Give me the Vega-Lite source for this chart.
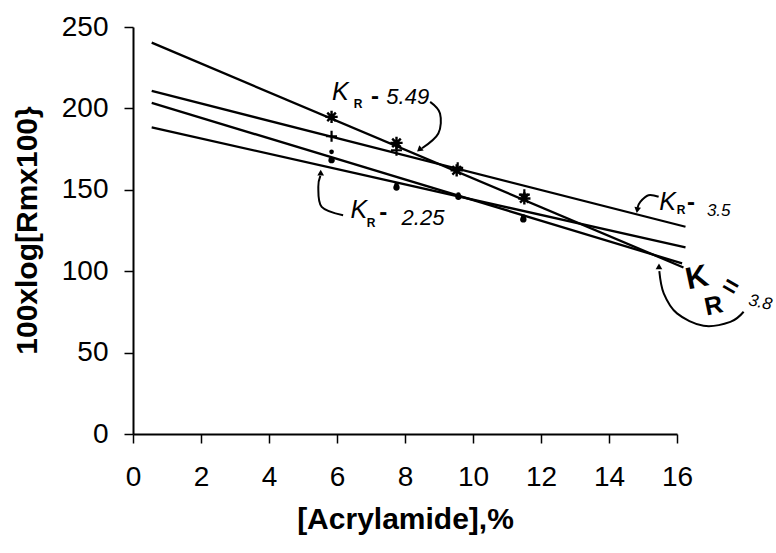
{
  "$schema": "https://vega.github.io/schema/vega-lite/v6.json",
  "autosize": {"type": "none"},
  "padding": {"left": 133, "top": 27, "right": 99, "bottom": 119},
  "width": 544,
  "height": 407,
  "background": "white",
  "config": {
    "font": "Liberation Sans",
    "view": {"stroke": null},
    "axis": {"grid": false, "domainColor": "black", "tickColor": "black", "labelColor": "black", "titleColor": "black", "domainWidth": 2, "tickWidth": 1.5, "tickSize": 9}
  },
  "datasets": {
    "fits": [
      {"K": "5.49", "x": 0.55, "y": 240.4}, {"K": "5.49", "x": 16.19, "y": 102.3},
      {"K": "3.5", "x": 0.55, "y": 210.7}, {"K": "3.5", "x": 16.25, "y": 127.3},
      {"K": "3.8", "x": 0.55, "y": 203.4}, {"K": "3.8", "x": 16.15, "y": 104.8},
      {"K": "2.25", "x": 0.55, "y": 188.3}, {"K": "2.25", "x": 16.25, "y": 114.6}
    ],
    "points": [
      {"K": "5.49", "x": 5.84, "y": 194.8}, {"K": "5.49", "x": 7.75, "y": 178.8}, {"K": "5.49", "x": 9.52, "y": 162.0}, {"K": "5.49", "x": 11.51, "y": 144.7},
      {"K": "3.5", "x": 5.84, "y": 182.9}, {"K": "3.5", "x": 7.75, "y": 174.3}, {"K": "3.5", "x": 9.55, "y": 163.5}, {"K": "3.5", "x": 11.51, "y": 147.0},
      {"K": "3.8", "x": 5.84, "y": 168.2}, {"K": "3.8", "x": 7.75, "y": 151.4}, {"K": "3.8", "x": 9.57, "y": 145.7}, {"K": "3.8", "x": 11.48, "y": 131.8},
      {"K": "2.25", "x": 5.84, "y": 173.3}, {"K": "2.25", "x": 7.75, "y": 153.0}, {"K": "2.25", "x": 9.57, "y": 147.0}, {"K": "2.25", "x": 11.48, "y": 133.5}
    ],
    "arrows": [
      {"arrow": "a549", "i": 1, "x": 8.74, "y": 204.0}, {"arrow": "a549", "i": 2, "x": 9.03, "y": 196.9}, {"arrow": "a549", "i": 3, "x": 8.98, "y": 184.6}, {"arrow": "a549", "i": 4, "x": 8.5, "y": 175.5},
      {"arrow": "a35", "i": 1, "x": 15.46, "y": 145.7}, {"arrow": "a35", "i": 2, "x": 15.16, "y": 146.7}, {"arrow": "a35", "i": 3, "x": 14.92, "y": 142.6}, {"arrow": "a35", "i": 4, "x": 14.84, "y": 139.0},
      {"arrow": "a38", "i": 1, "x": 17.96, "y": 75.1}, {"arrow": "a38", "i": 2, "x": 17.57, "y": 68.9}, {"arrow": "a38", "i": 3, "x": 16.78, "y": 66.5}, {"arrow": "a38", "i": 4, "x": 16.0, "y": 74.1}, {"arrow": "a38", "i": 5, "x": 15.61, "y": 86.4}, {"arrow": "a38", "i": 6, "x": 15.48, "y": 100.0},
      {"arrow": "a225", "i": 1, "x": 6.18, "y": 134.4}, {"arrow": "a225", "i": 2, "x": 5.55, "y": 139.5}, {"arrow": "a225", "i": 3, "x": 5.45, "y": 151.8}, {"arrow": "a225", "i": 4, "x": 5.51, "y": 158.5}
    ],
    "heads": [
      {"arrow": "a549", "x": 8.42, "y": 174.6},
      {"arrow": "a35", "x": 14.83, "y": 137.5},
      {"arrow": "a38", "x": 15.47, "y": 103.0},
      {"arrow": "a225", "x": 5.52, "y": 160.5}
    ],
    "kItalic": [
      {"x": 6.1, "y": 210.1, "text": "K"},
      {"x": 15.72, "y": 142.6, "text": "K"},
      {"x": 6.64, "y": 137.5, "text": "K"}
    ],
    "kSub": [
      {"x": 6.62, "y": 203.0, "text": "R"},
      {"x": 16.12, "y": 137.5, "text": "R"},
      {"x": 7.0, "y": 129.6, "text": "R"}
    ],
    "dashes": [
      {"x": 7.12, "y": 207.1, "text": "-"},
      {"x": 16.41, "y": 141.8, "text": "-"},
      {"x": 7.36, "y": 135.5, "text": "-"}
    ],
    "vals": [
      {"x": 7.45, "y": 207.1, "text": "5.49"},
      {"x": 7.9, "y": 132.4, "text": "2.25"}
    ],
    "valsSmall": [
      {"x": 16.88, "y": 137.0, "text": "3.5"}
    ],
    "bigK": [{"x": 16.59, "y": 95.6, "text": "K"}],
    "bigR": [{"x": 17.08, "y": 78.7, "text": "R"}],
    "bigEq": [{"x": 17.57, "y": 90.4, "text": "="}],
    "val38": [{"x": 18.45, "y": 80.7, "text": "3.8"}]
  },
  "encoding": {
    "x": {
      "field": "x", "type": "quantitative",
      "scale": {"domain": [0, 16], "nice": false, "zero": false},
      "axis": {"values": [0, 2, 4, 6, 8, 10, 12, 14, 16], "labelFontSize": 28, "labelPadding": 20, "title": "[Acrylamide],%", "titleFontSize": 30, "titleFontWeight": "bold", "titleY": 85, "titleBaseline": "middle", "labelFlush": false}
    },
    "y": {
      "field": "y", "type": "quantitative",
      "scale": {"domain": [0, 250], "nice": false, "zero": false},
      "axis": {"values": [0, 50, 100, 150, 200, 250], "labelFontSize": 28, "labelPadding": 16, "title": "100xlog[Rmx100}", "titleFontSize": 30, "titleFontWeight": "bold", "titleX": -106, "titleY": 203, "titleAngle": -90, "titleAlign": "center", "titleBaseline": "middle", "labelFlush": false}
    }
  },
  "layer": [
    {"data": {"name": "fits"}, "mark": {"type": "line", "color": "black", "strokeWidth": 2.3}, "encoding": {"detail": {"field": "K"}}},
    {"data": {"name": "points"}, "transform": [{"filter": "datum.K === '5.49'"}], "mark": {"type": "point", "shape": "M-1,0L1,0M0,-1L0,1M-0.7,-0.7L0.7,0.7M-0.7,0.7L0.7,-0.7", "size": 150, "filled": false, "stroke": "black", "strokeWidth": 2.4, "opacity": 1}},
    {"data": {"name": "points"}, "transform": [{"filter": "datum.K === '3.5'"}], "mark": {"type": "point", "shape": "M-1,0L1,0M0,-1L0,1", "size": 120, "filled": false, "stroke": "black", "strokeWidth": 2.2, "opacity": 1}},
    {"data": {"name": "points"}, "transform": [{"filter": "datum.K === '3.8'"}], "mark": {"type": "point", "shape": "circle", "size": 40, "filled": true, "color": "black", "opacity": 1}},
    {"data": {"name": "points"}, "transform": [{"filter": "datum.K === '2.25'"}], "mark": {"type": "point", "shape": "circle", "size": 22, "filled": true, "color": "black", "opacity": 1}},
    {"data": {"name": "arrows"}, "mark": {"type": "line", "color": "black", "strokeWidth": 2, "interpolate": "cardinal"}, "encoding": {"detail": {"field": "arrow"}, "order": {"field": "i", "type": "quantitative"}}},
    {"data": {"name": "heads"}, "transform": [{"filter": "datum.arrow === 'a549'"}], "mark": {"type": "point", "shape": "triangle-up", "size": 45, "filled": true, "color": "black", "opacity": 1, "angle": 230}},
    {"data": {"name": "heads"}, "transform": [{"filter": "datum.arrow === 'a35'"}], "mark": {"type": "point", "shape": "triangle-up", "size": 45, "filled": true, "color": "black", "opacity": 1, "angle": 190}},
    {"data": {"name": "heads"}, "transform": [{"filter": "datum.arrow === 'a38'"}], "mark": {"type": "point", "shape": "triangle-up", "size": 45, "filled": true, "color": "black", "opacity": 1, "angle": 0}},
    {"data": {"name": "heads"}, "transform": [{"filter": "datum.arrow === 'a225'"}], "mark": {"type": "point", "shape": "triangle-up", "size": 45, "filled": true, "color": "black", "opacity": 1, "angle": 0}},
    {"data": {"name": "kItalic"}, "mark": {"type": "text", "fontSize": 25, "fontStyle": "italic", "color": "black", "align": "center", "baseline": "middle"}, "encoding": {"text": {"field": "text"}}},
    {"data": {"name": "kSub"}, "mark": {"type": "text", "fontSize": 12, "fontWeight": "bold", "color": "black", "align": "center", "baseline": "middle"}, "encoding": {"text": {"field": "text"}}},
    {"data": {"name": "dashes"}, "mark": {"type": "text", "fontSize": 24, "fontWeight": "bold", "color": "black", "align": "center", "baseline": "middle"}, "encoding": {"text": {"field": "text"}}},
    {"data": {"name": "vals"}, "mark": {"type": "text", "fontSize": 22, "fontStyle": "italic", "color": "black", "align": "left", "baseline": "middle"}, "encoding": {"text": {"field": "text"}}},
    {"data": {"name": "valsSmall"}, "mark": {"type": "text", "fontSize": 17, "fontStyle": "italic", "color": "black", "align": "left", "baseline": "middle"}, "encoding": {"text": {"field": "text"}}},
    {"data": {"name": "bigK"}, "mark": {"type": "text", "fontSize": 31, "fontWeight": "bold", "color": "black", "align": "center", "baseline": "middle", "angle": -12}, "encoding": {"text": {"field": "text"}}},
    {"data": {"name": "bigR"}, "mark": {"type": "text", "fontSize": 25, "fontWeight": "bold", "color": "black", "align": "center", "baseline": "middle", "angle": -12}, "encoding": {"text": {"field": "text"}}},
    {"data": {"name": "bigEq"}, "mark": {"type": "text", "fontSize": 26, "fontWeight": "bold", "color": "black", "align": "center", "baseline": "middle", "angle": 30}, "encoding": {"text": {"field": "text"}}},
    {"data": {"name": "val38"}, "mark": {"type": "text", "fontSize": 17, "fontStyle": "italic", "color": "black", "align": "center", "baseline": "middle", "angle": 12}, "encoding": {"text": {"field": "text"}}}
  ]
}
